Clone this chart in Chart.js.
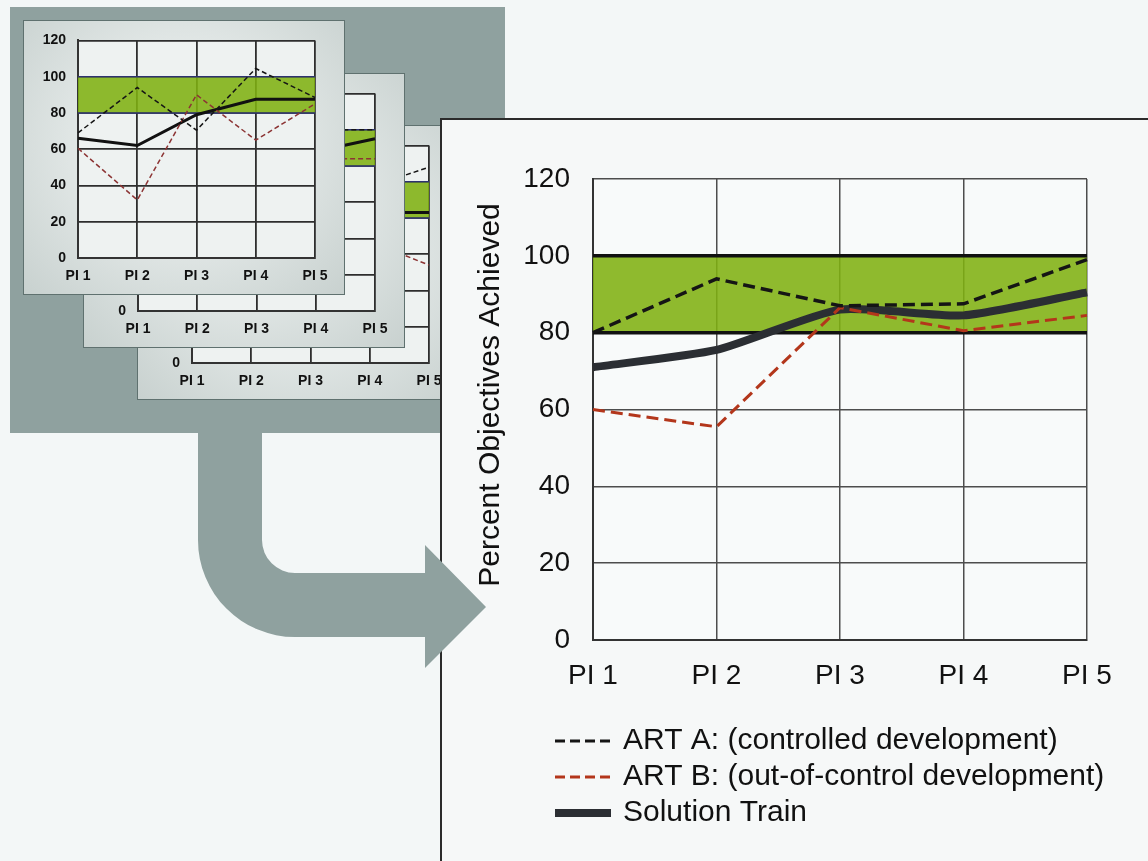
<!DOCTYPE html>
<html>
<head>
<meta charset="utf-8">
<script src="https://cdn.jsdelivr.net/npm/chart.js@4.4.1/dist/chart.umd.min.js"></script>
<style>
  html, body { margin: 0; padding: 0; }
  body { width: 1148px; height: 861px; background: #f3f7f7; position: relative; overflow: hidden; }
  .abs { position: absolute; }
  #backdrop { left: 10px; top: 7px; width: 495px; height: 426px; background: #8fa19f; }
  .card { box-sizing: border-box; width: 322px; height: 275px; border: 1.5px solid #5f716f;
          background: radial-gradient(ellipse at 50% 45%, #e7eceb 35%, #c8d1cf 100%); }
  #card1 { left: 23px; top: 20px; }
  #card2 { left: 83px; top: 73px; }
  #card3 { left: 137px; top: 125px; }
  #thumb1 { left: 23px; top: 20px; }
  #thumb2 { left: 83px; top: 73px; }
  #thumb3 { left: 137px; top: 125px; }
  #panel { box-sizing: border-box; left: 440px; top: 118px; width: 720px; height: 760px;
           background: #f6f8f8; border-left: 2px solid #2b2b2b; border-top: 2px solid #2b2b2b; }
  #arrow { left: 0; top: 0; }
  #mainChart { left: 440px; top: 118px; }
</style>
</head>
<body>
<div id="backdrop" class="abs"></div>
<div id="card3" class="abs card"></div>
<canvas id="thumb3" class="abs" width="322" height="275"></canvas>
<div id="card2" class="abs card"></div>
<canvas id="thumb2" class="abs" width="322" height="275"></canvas>
<div id="card1" class="abs card"></div>
<canvas id="thumb1" class="abs" width="322" height="275"></canvas>
<div id="panel" class="abs"></div>
<svg id="arrow" class="abs" width="1148" height="861">
  <path d="M198,430 L262,430 L262,540 A33,33 0 0 0 295,573 L425,573 L425,545 L486,607 L425,668 L425,637 L295,637 A97,97 0 0 1 198,540 Z" fill="#8fa19f"/>
</svg>
<canvas id="mainChart" class="abs" width="708" height="743"></canvas>
<script>
// categories and tick labels
const categories = ['PI 1', 'PI 2', 'PI 3', 'PI 4', 'PI 5'];
const yTicks = [0, 20, 40, 60, 80, 100, 120];
const seriesNames = ['ART A: (controlled development)', 'ART B: (out-of-control development)', 'Solution Train'];
const axisTitle = 'Percent Objectives Achieved';

// main chart
const artA = [80, 94, 87, 87.5, 99];
const artB = [60, 55.5, 86.5, 80.5, 84.5];
const solutionTrain = [71, 75.5, 86, 84.5, 90.5];

// target band (80-100)
const bandHigh = [100, 100, 100, 100, 100];
const bandLow = [80, 80, 80, 80, 80];

// stacked thumbnails in the grey backdrop
const thumb1ArtA = [69, 94, 70.5, 104.5, 88.5];
const thumb1ArtB = [60.5, 32, 90, 65, 85];
const thumb1Train = [66, 62, 79, 87.5, 87.5];
const thumb2ArtA = [72, 88, 80, 100, 100];
const thumb2ArtB = [58, 45, 75, 84, 84];
const thumb2Train = [64, 70, 80, 88, 95];
const thumb3ArtA = [70, 85, 90, 97, 108];
const thumb3ArtB = [60, 50, 72, 67, 54];
const thumb3Train = [62, 68, 76, 83, 83];

Chart.defaults.font.family = "'Liberation Sans', Arial, sans-serif";
Chart.defaults.color = '#111';

// fills the plot area before anything else
const plotBg = {
  id: 'plotBg',
  beforeDraw(chart, args, opts) {
    const a = chart.chartArea;
    chart.ctx.save();
    chart.ctx.fillStyle = opts.color;
    chart.ctx.fillRect(a.left, a.top, a.right - a.left, a.bottom - a.top);
    chart.ctx.restore();
  }
};

// vertical axis title, sits a bit above the scale centre like the original
const sideTitle = {
  id: 'sideTitle',
  afterDraw(chart, args, opts) {
    if (!opts.text) return;
    const ctx = chart.ctx;
    ctx.save();
    ctx.translate(opts.x, opts.y);
    ctx.rotate(-Math.PI / 2);
    ctx.font = opts.fontSize + "px 'Liberation Sans', Arial, sans-serif";
    ctx.fillStyle = '#111';
    ctx.textAlign = 'center';
    ctx.textBaseline = 'middle';
    ctx.fillText(opts.text, 0, 0);
    ctx.restore();
  }
};

// stacked legend with line samples
const lineLegend = {
  id: 'lineLegend',
  afterDraw(chart, args, opts) {
    if (!opts.show) return;
    const ctx = chart.ctx;
    ctx.save();
    ctx.font = opts.fontSize + "px 'Liberation Sans', Arial, sans-serif";
    ctx.textBaseline = 'middle';
    let y = opts.top;
    chart.data.datasets.forEach(ds => {
      if (!ds.label) return;
      ctx.beginPath();
      ctx.strokeStyle = ds.borderColor;
      ctx.lineWidth = ds.borderDash ? 3 : ds.borderWidth;
      ctx.setLineDash(ds.borderDash ? opts.dash : []);
      ctx.moveTo(opts.left, y);
      ctx.lineTo(opts.left + opts.sampleWidth, y);
      ctx.stroke();
      ctx.setLineDash([]);
      ctx.fillStyle = '#111';
      ctx.fillText(ds.label, opts.left + opts.sampleWidth + opts.gap, y);
      y += opts.rowHeight;
    });
    ctx.restore();
  }
};

function lineSets(a, b, s, big) {
  return [
    { label: big ? seriesNames[0] : null, data: a, borderColor: '#151515',
      borderWidth: big ? 3.5 : 1.5, borderDash: big ? [12, 6] : [5, 3], order: 1 },
    { label: big ? seriesNames[1] : null, data: b, borderColor: big ? '#b3361b' : '#8c3434',
      borderWidth: big ? 3 : 1.5, borderDash: big ? [12, 6] : [5, 3], order: 2 },
    { label: big ? seriesNames[2] : null, data: s, borderColor: big ? '#2b2e33' : '#111',
      borderWidth: big ? 8 : 3, tension: big ? 0.2 : 0, order: 3 },
    { label: null, data: bandHigh, borderColor: big ? '#111' : '#2d3170',
      borderWidth: big ? 3.5 : 1.5, order: 10 },
    { label: null, data: bandLow, borderColor: big ? '#111' : '#2d3170',
      borderWidth: big ? 3.5 : 1.5, fill: '-1', backgroundColor: 'rgba(128,177,17,0.88)', order: 11 }
  ];
}

function buildChart(id, a, b, s, big) {
  const gridColor = big ? '#4d4d4d' : '#2e2e2e';
  const tickFont = big ? { size: 28 } : { size: 14, weight: 'bold' };
  return new Chart(document.getElementById(id), {
    type: 'line',
    data: { labels: categories, datasets: lineSets(a, b, s, big) },
    options: {
      responsive: false,
      animation: false,
      events: [],
      layout: { padding: big ? { left: 33, right: 61, top: 61, bottom: 161 }
                              : { left: 0, right: 30, top: 20, bottom: 0 } },
      elements: { point: { radius: 0 }, line: { borderCapStyle: 'butt' } },
      plugins: {
        legend: { display: false },
        tooltip: { enabled: false },
        plotBg: { color: big ? '#f8fafa' : '#eef2f1' },
        sideTitle: { text: big ? axisTitle : null, x: 51, y: 277, fontSize: 30 },
        lineLegend: { show: big, left: 115, top: 623, rowHeight: 36, sampleWidth: 56,
                      gap: 12, fontSize: 30, dash: [10, 5] }
      },
      scales: {
        x: {
          offset: false,
          grid: { color: gridColor, lineWidth: big ? 1.5 : 1.8, drawTicks: false },
          border: { color: '#333', width: 2 },
          ticks: { font: tickFont, padding: big ? 19 : 10, maxRotation: 0, autoSkip: false },
          afterFit: sc => { sc.height = big ? 60 : 37; }
        },
        y: {
          min: 0, max: 120,
          afterBuildTicks: sc => { sc.ticks = yTicks.map(v => ({ value: v })); },
          grid: { color: gridColor, lineWidth: big ? 1.5 : 1.8, drawTicks: false },
          border: { color: '#333', width: 2 },
          ticks: { font: tickFont, padding: big ? 23 : 12 },
          afterFit: sc => { sc.width = big ? 120 : 55; }
        }
      }
    },
    plugins: [plotBg, sideTitle, lineLegend]
  });
}

buildChart('thumb3', thumb3ArtA, thumb3ArtB, thumb3Train, false);
buildChart('thumb2', thumb2ArtA, thumb2ArtB, thumb2Train, false);
buildChart('thumb1', thumb1ArtA, thumb1ArtB, thumb1Train, false);
buildChart('mainChart', artA, artB, solutionTrain, true);
</script>
</body>
</html>
